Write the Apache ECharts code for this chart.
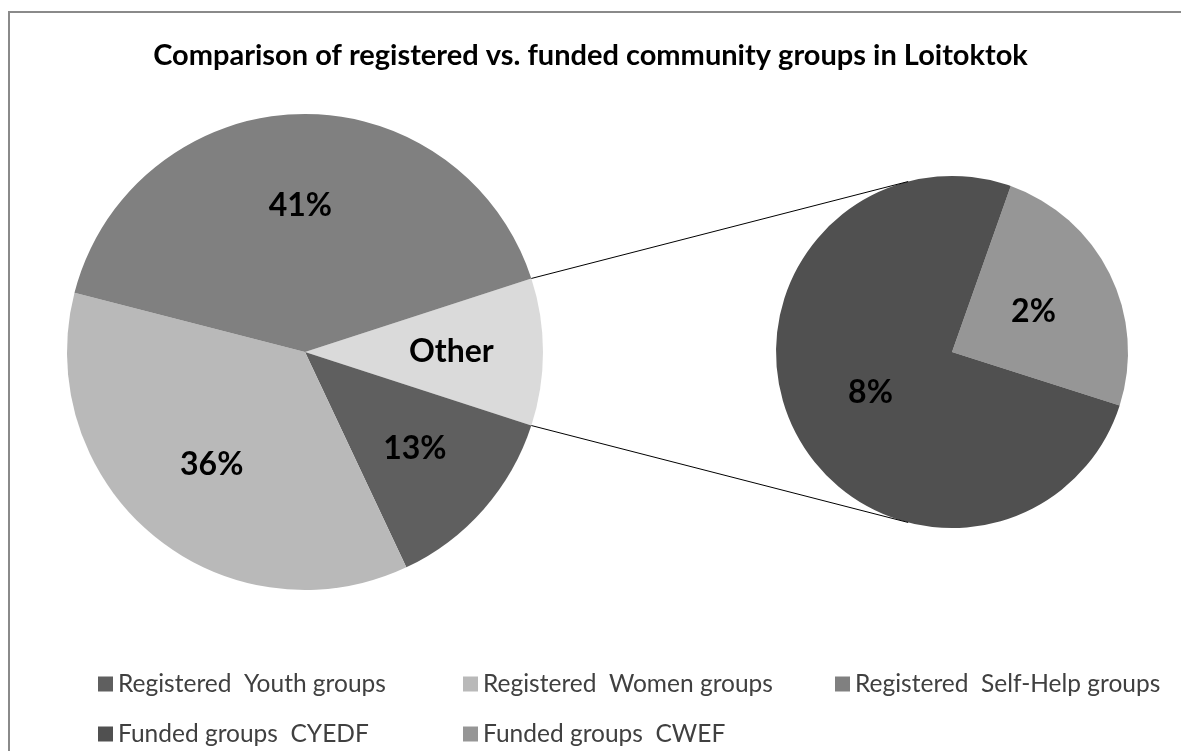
<!DOCTYPE html>
<html>
<head>
<meta charset="utf-8">
<title>Loitoktok community groups</title>
<script src="https://cdn.jsdelivr.net/npm/echarts@6/dist/echarts.min.js"></script>
<style>
  html, body { margin: 0; padding: 0; background: #ffffff; }
  #chart { width: 1181px; height: 751px; }
</style>
</head>
<body>
<div id="chart"></div>
<script>
// Shares of all groups, in percent
const registeredNames = ['Registered  Youth groups', 'Registered  Women groups', 'Registered  Self-Help groups'];
const registeredValues = [13, 36, 41];
const fundedNames = ['Funded groups  CYEDF', 'Funded groups  CWEF'];
const fundedValues = [7.55, 2.45];
const otherName = 'Other';

const titleText = 'Comparison of registered vs. funded community groups in Loitoktok';

// Slice colours
const registeredColors = ['#5f5f5f', '#b9b9b9', '#808080'];
const otherColor = '#dadada';
const fundedColors = ['#505050', '#969696'];

// Geometry of the two pies (px)
const mainCenter = [305, 352];
const mainRadius = 238;
const subCenter = [952, 352];
const subRadius = 176;

const FONT = 'Lato, "Open Sans", sans-serif';

const otherValue = fundedValues.reduce((a, b) => a + b, 0);
const total = registeredValues.reduce((a, b) => a + b, 0) + otherValue;
const otherHalfAngle = otherValue / total * 180; // Other slice is centred on the right

// Main pie: Other first, then the registered groups clockwise
const mainData = [{ name: otherName, value: otherValue, itemStyle: { color: otherColor } }]
  .concat(registeredNames.map((n, i) => ({ name: n, value: registeredValues[i], itemStyle: { color: registeredColors[i] } })));

// Secondary pie: CWEF first, then CYEDF clockwise
const subData = [
  { name: fundedNames[1], value: fundedValues[1], itemStyle: { color: fundedColors[1] } },
  { name: fundedNames[0], value: fundedValues[0], itemStyle: { color: fundedColors[0] } }
];

const pct = v => Math.round(v / total * 100) + '%';

const labelStyle = {
  show: true,
  position: 'inside',
  color: '#000',
  fontFamily: FONT,
  fontWeight: 'bold',
  fontSize: 32
};

// Connector lines: from the edges of the Other slice, tangent to the secondary pie
function connector(sign) {
  const a = sign * otherHalfAngle * Math.PI / 180;
  const p = [mainCenter[0] + mainRadius * Math.cos(a), mainCenter[1] - mainRadius * Math.sin(a)];
  const vx = subCenter[0] - p[0], vy = subCenter[1] - p[1];
  const d = Math.hypot(vx, vy);
  const th = Math.atan2(vy, vx);
  const al = Math.asin(subRadius / d);
  const len = Math.sqrt(d * d - subRadius * subRadius);
  const cands = [th + al, th - al].map(t => [p[0] + len * Math.cos(t), p[1] + len * Math.sin(t)]);
  cands.sort((u, w) => u[1] - w[1]);
  const t = sign > 0 ? cands[0] : cands[1];
  return {
    type: 'line',
    silent: true,
    z: 10,
    shape: { x1: p[0], y1: p[1], x2: t[0], y2: t[1] },
    style: { stroke: '#000', lineWidth: 1 }
  };
}

// One legend entry per slot of the 3-column grid
const legendText = { color: '#404040', fontFamily: FONT, fontSize: 24.5, lineHeight: 26 };
const legendCols = [98, 463, 835];
const legendRows = [671, 721];
const legendOrder = [registeredNames[0], registeredNames[1], registeredNames[2], fundedNames[0], fundedNames[1]];
const legends = legendOrder.map((name, i) => ({
  data: [name],
  orient: 'horizontal',
  left: legendCols[i % 3],
  top: legendRows[Math.floor(i / 3)],
  padding: 0,
  itemWidth: 15,
  itemHeight: 15,
  icon: 'rect',
  selectedMode: false,
  textStyle: legendText
}));

const chart = echarts.init(document.getElementById('chart'), null, { renderer: 'canvas' });
chart.setOption({
  backgroundColor: '#ffffff',
  animation: false,
  title: {
    text: titleText,
    left: 'center',
    top: 36,
    textStyle: { fontFamily: FONT, fontWeight: 'bold', fontSize: 29, color: '#000' }
  },
  legend: legends,
  graphic: [
    {
      type: 'rect',
      silent: true,
      z: -10,
      shape: { x: 9, y: 12, width: 1300, height: 900 },
      style: { fill: 'none', stroke: '#8a8a8a', lineWidth: 2 }
    },
    connector(1),
    connector(-1)
  ],
  series: [
    {
      type: 'pie',
      center: mainCenter,
      radius: mainRadius,
      startAngle: otherHalfAngle,
      clockwise: true,
      silent: true,
      label: Object.assign({}, labelStyle, {
        formatter: p => p.name === otherName ? otherName : pct(p.value)
      }),
      labelLine: { show: false },
      labelLayout: function (p) {
        const r = p.labelRect;
        const cx = r.x + r.width / 2, cy = r.y + r.height / 2;
        return {
          x: mainCenter[0] + (cx - mainCenter[0]) * 1.2,
          y: mainCenter[1] + (cy - mainCenter[1]) * 1.2
        };
      },
      data: mainData
    },
    {
      type: 'pie',
      center: subCenter,
      radius: subRadius,
      startAngle: 70.5,
      clockwise: true,
      silent: true,
      label: Object.assign({}, labelStyle, { formatter: p => pct(p.value) }),
      labelLine: { show: false },
      data: subData
    }
  ]
});
</script>
</body>
</html>
